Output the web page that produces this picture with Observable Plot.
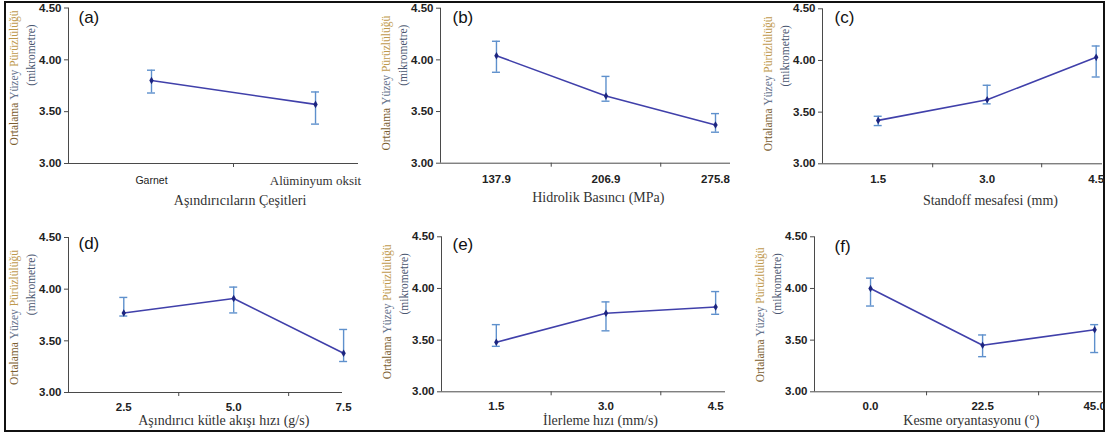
<!DOCTYPE html>
<html><head><meta charset="utf-8">
<script src="https://cdn.jsdelivr.net/npm/d3@7"></script>
<script src="https://cdn.jsdelivr.net/npm/@observablehq/plot@0.6"></script>
<style>
html,body{margin:0;padding:0;background:#fff;}
#wrap{position:relative;width:1105px;height:436px;overflow:hidden;background:#fff;}
#frame{position:absolute;left:4px;top:1px;width:1101px;height:431px;border:2px solid #111;box-sizing:border-box;}
</style></head><body><div id="wrap"><div id="frame"></div></div>
<script>
// ---------------- data ----------------
const yTicks = [3.0, 3.5, 4.0, 4.5];
const panelLetters = ["(a)", "(b)", "(c)", "(d)", "(e)", "(f)"];
const axisTitles = [
  "Aşındırıcıların Çeşitleri",
  "Hidrolik Basıncı (MPa)",
  "Standoff mesafesi (mm)",
  "Aşındırıcı kütle akışı hızı (g/s)",
  "İlerleme hızı (mm/s)",
  "Kesme oryantasyonu (°)"
];
const yLabelWords = ["Ortalama ", "Yüzey ", "Pürüzlülüğü"];
const yLabelUnit = "(mikrometre)";

const levelsA = ["Garnet", "Alüminyum oksit"];
const meanA  = [3.80, 3.57];
const upperA = [3.90, 3.69];
const lowerA = [3.68, 3.38];

const levelsB = ["137.9", "206.9", "275.8"];
const meanB  = [4.04, 3.65, 3.37];
const upperB = [4.18, 3.84, 3.48];
const lowerB = [3.88, 3.60, 3.30];

const levelsC = ["1.5", "3.0", "4.5"];
const meanC  = [3.42, 3.62, 4.03];
const upperC = [3.46, 3.76, 4.14];
const lowerC = [3.37, 3.58, 3.84];

const levelsD = ["2.5", "5.0", "7.5"];
const meanD  = [3.77, 3.91, 3.38];
const upperD = [3.92, 4.02, 3.61];
const lowerD = [3.74, 3.77, 3.30];

const levelsE = ["1.5", "3.0", "4.5"];
const meanE  = [3.48, 3.76, 3.82];
const upperE = [3.65, 3.87, 3.97];
const lowerE = [3.44, 3.59, 3.75];

const levelsF = ["0.0", "22.5", "45.0"];
const meanF  = [4.00, 3.45, 3.60];
const upperF = [4.10, 3.55, 3.65];
const lowerF = [3.83, 3.34, 3.38];

// ---------------- layout / style ----------------
const W = 1105, H = 436;
const SANS = "'Liberation Sans', Arial, sans-serif";
const SERIF = "'Liberation Serif', 'Times New Roman', serif";
const tickSans = {fontFamily: SANS, fontSize: 11.5, fontWeight: 600, fill: "#222"};
const tickSansSmall = {fontFamily: SANS, fontSize: 10.5, fontWeight: 500, fill: "#222"};
const tickSerif = {fontFamily: SERIF, fontSize: 13, fontWeight: 400, fill: "#333"};

const layouts = [
  {x0: 68,  x1: 358,  yTop: 7.5,   yBot: 163,   d0: -0.506, d1: 1.262, titleX: 0.54, titleDy: 37, tickDy: 17, letterDx: 10, letterDy: 9.5, lblCy: 70, tickFonts: [tickSansSmall, tickSerif]},
  {x0: 440, x1: 730,  yTop: 7.7,   yBot: 162.7, d0: -0.511, d1: 2.137, titleX: 0.93, titleDy: 34, tickDy: 16, letterDx: 12, letterDy: 9.3, lblCy: 75},
  {x0: 822, x1: 1102, yTop: 8.3,   yBot: 163.3, d0: -0.511, d1: 2.058, titleX: 1.03, titleDy: 37, tickDy: 16, letterDx: 12, letterDy: 8.7, lblCy: 75},
  {x0: 68,  x1: 342,  yTop: 237,   yBot: 392,   d0: -0.503, d1: 1.99,  titleX: 0.91, titleDy: 28, tickDy: 14.5, letterDx: 10, letterDy: 6, lblCy: 80},
  {x0: 441, x1: 725,  yTop: 236.3, yBot: 391.3, d0: -0.50,  d1: 2.09,  titleX: 0.95, titleDy: 28.5, tickDy: 14.5, letterDx: 11, letterDy: 8, lblCy: 75},
  {x0: 814, x1: 1102, yTop: 236.3, yBot: 391.3, d0: -0.50,  d1: 2.07,  titleX: 0.90, titleDy: 28.5, tickDy: 14.5, letterDx: 20, letterDy: 10, lblCy: 78}
];

const panelData = [
  [levelsA, meanA, upperA, lowerA],
  [levelsB, meanB, upperB, lowerB],
  [levelsC, meanC, upperC, lowerC],
  [levelsD, meanD, upperD, lowerD],
  [levelsE, meanE, upperE, lowerE],
  [levelsF, meanF, upperF, lowerF]
];

const axisColor = "#4a4a4a";
const lineColor = "#4040aa";
const dotColor = "#1c2580";
const errColor = "#5e90cc";
const wordColors = ["#7a5c2e", "#66738c", "#bf9a4e"];
const unitColor = "#4a5670";
const lblFontSize = 11.5;

// measure words of the y label
const ctx = document.createElement("canvas").getContext("2d");
ctx.font = `${lblFontSize}px 'Liberation Serif'`;
const wordW = yLabelWords.map(w => ctx.measureText(w).width);
const totalW = d3.sum(wordW);

const wrap = document.getElementById("wrap");

panelData.forEach(([levels, mean, upper, lower], p) => {
  const L = layouts[p];
  const rows = levels.map((lv, i) => ({i, level: lv, mean: mean[i], upper: upper[i], lower: lower[i]}));
  const halfTicks = d3.range(levels.length - 1).map(i => i + 0.5);
  const marks = [];

  // axes lines
  marks.push(Plot.ruleX([L.d0], {x: d => d, y1: () => 3, y2: () => 4.5, stroke: axisColor, strokeWidth: 1}));
  marks.push(Plot.ruleY([3], {y: d => d, x1: () => L.d0, x2: () => L.d1, stroke: axisColor, strokeWidth: 1}));
  // y ticks
  marks.push(Plot.ruleY(yTicks, {y: d => d, x1: () => L.d0, x2: () => L.d0, insetLeft: -4, stroke: axisColor}));
  marks.push(Plot.text(yTicks, {x: () => L.d0, y: d => d, text: d => d3.format(".2f")(d), dx: -7, textAnchor: "end", lineAnchor: "middle", ...tickSans}));
  // x ticks between levels
  marks.push(Plot.ruleX(halfTicks, {x: d => d, y1: () => 3, y2: () => 3, insetBottom: -4, stroke: axisColor}));
  // x tick labels
  rows.forEach((r, i) => {
    const f = L.tickFonts ? L.tickFonts[i] : tickSans;
    marks.push(Plot.text([r], {x: "i", y: () => 3, text: "level", dy: L.tickDy, textAnchor: "middle", lineAnchor: "middle", ...f}));
  });
  // axis title
  marks.push(Plot.text([axisTitles[p]], {x: () => L.titleX, y: () => 3, text: d => d, dy: L.titleDy, textAnchor: "middle", lineAnchor: "middle", fontFamily: SERIF, fontSize: 14, fill: "#333"}));
  // y label (rotated, multi-coloured words)
  let start = L.lblCy + totalW / 2;
  yLabelWords.forEach((w, k) => {
    marks.push(Plot.text([w], {x: () => L.d0, y: () => 4.5, text: d => d, rotate: -90, dx: -54, dy: start, textAnchor: "start", lineAnchor: "middle", fontFamily: SERIF, fontSize: lblFontSize, fill: wordColors[k]}));
    start -= wordW[k];
  });
  marks.push(Plot.text([yLabelUnit], {x: () => L.d0, y: () => 4.5, text: d => d, rotate: -90, dx: -37, dy: 47, textAnchor: "middle", lineAnchor: "middle", fontFamily: SERIF, fontSize: lblFontSize, fill: unitColor}));
  // panel letter
  marks.push(Plot.text([panelLetters[p]], {x: () => L.d0, y: () => 4.5, text: d => d, dx: L.letterDx, dy: L.letterDy, textAnchor: "start", lineAnchor: "middle", fontFamily: SANS, fontSize: 17, fill: "#111"}));
  // error bars
  marks.push(Plot.ruleX(rows, {x: "i", y1: "lower", y2: "upper", stroke: errColor, strokeWidth: 1.4}));
  marks.push(Plot.ruleY(rows, {y: "upper", x1: "i", x2: "i", insetLeft: -4, insetRight: -4, stroke: errColor, strokeWidth: 1.4}));
  marks.push(Plot.ruleY(rows, {y: "lower", x1: "i", x2: "i", insetLeft: -4, insetRight: -4, stroke: errColor, strokeWidth: 1.4}));
  // mean line and markers
  marks.push(Plot.line(rows, {x: "i", y: "mean", stroke: lineColor, strokeWidth: 1.6}));
  marks.push(Plot.dot(rows, {x: "i", y: "mean", symbol: "diamond", r: 2.3, fill: dotColor, stroke: "none"}));

  const svg = Plot.plot({
    width: W, height: H,
    marginLeft: L.x0, marginRight: W - L.x1, marginTop: L.yTop, marginBottom: H - L.yBot,
    x: {domain: [L.d0, L.d1], axis: null},
    y: {domain: [3, 4.5], axis: null},
    style: {background: "transparent", overflow: "visible", position: "absolute", left: "0px", top: "0px", fontFamily: SANS},
    marks
  });
  wrap.appendChild(svg);
});
</script>
</body></html>
